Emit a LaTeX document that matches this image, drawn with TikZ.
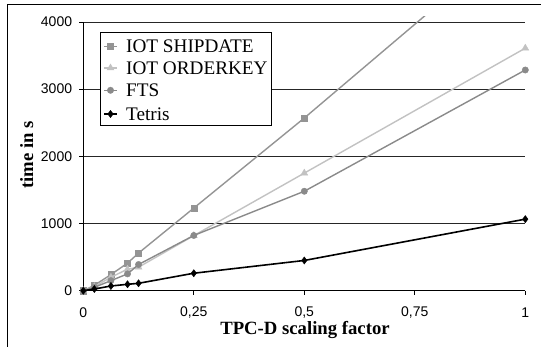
\documentclass[tikz,border=0pt]{standalone}
\usepackage{fontspec}
\setmainfont{Liberation Serif}
\newfontfamily\ticksans{Liberation Sans}
\usetikzlibrary{plotmarks}

\definecolor{shipcol}{gray}{0.58}
\definecolor{ordercol}{gray}{0.76}
\definecolor{ftscol}{gray}{0.54}

\begin{document}
\begin{tikzpicture}[x=1pt, y=1pt,
  serif/.style={font=\fontsize{19.2}{21}\selectfont, inner sep=0pt},
  titlefont/.style={font=\bfseries\fontsize{18.7}{20}\selectfont, inner sep=0pt},
  ticklab/.style={font=\ticksans\fontsize{14}{16}\selectfont, inner sep=0pt},
  grid line/.style={black!85, line width=0.9pt},
  axis line/.style={black, line width=0.9pt},
  ship/.style={draw=shipcol, line width=1.4pt, mark=square*, mark size=3.1pt,
    mark options={line width=0.4pt, draw=shipcol, fill=shipcol}},
  order/.style={draw=ordercol, line width=1.4pt, mark=triangle*, mark size=4pt,
    mark options={line width=0.4pt, draw=ordercol, fill=ordercol}},
  fts/.style={draw=ftscol, line width=1.4pt, mark=*, mark size=3.2pt,
    mark options={line width=0.4pt, draw=ftscol, fill=ftscol}},
  tetris/.style={draw=black, line width=1.6pt, mark=diamond*, mark size=3.6pt,
    mark options={line width=0.4pt, draw=black, fill=black}},
]
\useasboundingbox (0,0) rectangle (541,347);

% outer frame (only top and left edges fall inside the page)
\draw[line width=1pt] (7,0) -- (7,342) -- (541,342);

\begin{scope}[shift={(83.3,56.3)}, x=442pt, y=0.06718pt]
  % horizontal grid
  \foreach \t in {1000,2000,3000,4000}
    \draw[grid line] (0,\t) -- (1,\t);
  % axes
  \draw[axis line] (0,0) -- (0,4000);
  \draw[axis line] (0,0) -- (1,0);
  % y ticks and labels
  \foreach \t in {0,1000,2000,3000,4000} {
    \draw[axis line] (0,\t) -- ++(-4pt,0);
    \node[ticklab, anchor=east] (ylab\t) at ([xshift=-11pt]0,\t) {\t};
  }
  % x ticks and labels
  \foreach \v/\txt/\nm in {0/0/a, 0.25/{0,25}/b, 0.5/{0,5}/c, 0.75/{0,75}/d, 1/1/e} {
    \draw[axis line] (\v,0) -- ++(0,-4.5pt);
    \node[ticklab] (xlab\nm) at ([yshift=-22.3pt]\v,0) {\txt};
  }

  % measured series
  \begin{scope}
    \clip (-0.05,-300) rectangle (1.05,4075);
    \draw[ship] plot coordinates {(0,0) (0.025,80) (0.0625,240) (0.1,410) (0.125,560) (0.25,1230) (0.5,2570) (1,5360)};
    \draw[order] plot coordinates {(0,0) (0.025,60) (0.0625,200) (0.1,320) (0.125,350) (0.25,820) (0.5,1750) (1,3610)};
    \draw[fts] plot coordinates {(0,0) (0.025,50) (0.0625,150) (0.1,250) (0.125,390) (0.25,822) (0.5,1480) (1,3285)};
    \draw[tetris] plot coordinates {(0,0) (0.025,25) (0.0625,70) (0.1,95) (0.125,110) (0.25,260) (0.5,450) (1,1065)};
  \end{scope}
\end{scope}

% axis titles
\node[titlefont, anchor=base] (xtitle) at (305,12) {TPC-D scaling factor};
\node[titlefont, anchor=base, rotate=90] (ytitle) at (33,192) {time in s};

% legend
\node[draw=black, fill=white, line width=0.9pt, minimum width=171pt, minimum height=93.3pt,
      inner sep=0pt, anchor=south west] (legendbox) at (100,220.7) {};
\draw[ship] (104,300.7) -- (117,300.7);
\draw[ship] plot[only marks] coordinates {(110.5,300.7)};
\node[serif, anchor=west] (legship) at (126,300.7) {IOT SHIPDATE};
\draw[order] (104,279) -- (117,279);
\draw[order] plot[only marks] coordinates {(110.5,279)};
\node[serif, anchor=west] (legorder) at (126,279) {IOT ORDERKEY};
\draw[fts] (104,256.7) -- (117,256.7);
\draw[fts] plot[only marks] coordinates {(110.5,256.7)};
\node[serif, anchor=west] (legfts) at (126,256.7) {FTS};
\draw[tetris] (104,233) -- (117,233);
\draw[tetris] plot[only marks] coordinates {(110.5,233)};
\node[serif, anchor=west] (legtetris) at (126,233) {Tetris};
\end{tikzpicture}
\end{document}
